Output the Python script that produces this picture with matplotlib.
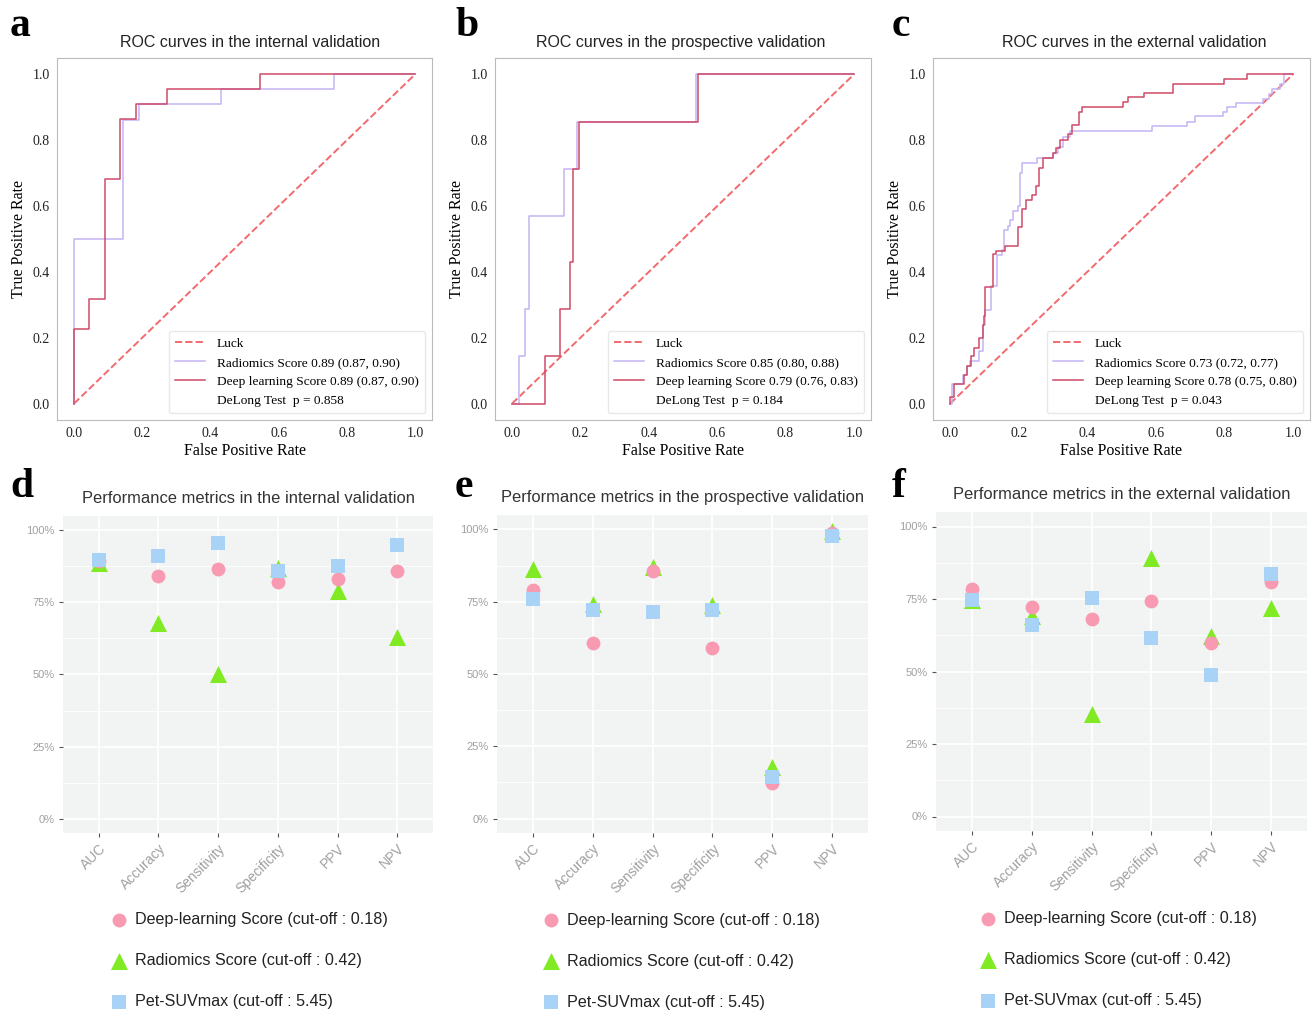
import matplotlib.pyplot as plt
from matplotlib.ticker import FuncFormatter, FixedLocator

SERIF = "Liberation Serif"
SANS = "Liberation Sans"

LUCK_C = "#F26A6E"
RAD_C = "#C4B4F4"
DL_C = "#CF4A68"
PINK = "#F89BB2"
GREEN = "#80EA22"
BLUE = "#A9D2F7"

# ROC jump points (fpr where the curve steps up, tpr after the step)
int_rad_fpr = [0, 0, 0.143, 0.191, 0.43, 0.763, 1.0]
int_rad_tpr = [0, 0.5, 0.863, 0.909, 0.955, 1.0, 1.0]
int_dl_fpr = [0, 0, 0.045, 0.091, 0.136, 0.182, 0.273, 0.545, 1.0]
int_dl_tpr = [0, 0.227, 0.318, 0.682, 0.864, 0.909, 0.955, 1.0, 1.0]

pro_rad_fpr = [0, 0.02, 0.039, 0.049, 0.151, 0.19, 0.537, 1.0]
pro_rad_tpr = [0, 0.143, 0.286, 0.571, 0.714, 0.857, 1.0, 1.0]
pro_dl_fpr = [0, 0.096, 0.141, 0.17, 0.178, 0.197, 0.543, 1.0]
pro_dl_tpr = [0, 0.143, 0.286, 0.429, 0.714, 0.857, 1.0, 1.0]

ext_rad_fpr = [0, 0.006, 0.037, 0.05, 0.057, 0.085, 0.095, 0.103, 0.12, 0.137, 0.15,
               0.156, 0.169, 0.176, 0.183, 0.198, 0.204, 0.21, 0.252, 0.3, 0.315, 0.33,
               0.35, 0.588, 0.69, 0.714, 0.795, 0.807, 0.833, 0.912, 0.93, 0.94, 0.962,
               0.975, 1.0]
ext_rad_tpr = [0, 0.058, 0.088, 0.113, 0.13, 0.159, 0.24, 0.285, 0.356, 0.45, 0.467,
               0.528, 0.541, 0.558, 0.586, 0.6, 0.70, 0.73, 0.745, 0.76, 0.78, 0.81,
               0.828, 0.843, 0.855, 0.873, 0.886, 0.9, 0.914, 0.926, 0.942, 0.957, 0.972,
               1.0, 1.0]
ext_dl_fpr = [0, 0, 0.01, 0.04, 0.05, 0.06, 0.07, 0.085, 0.095, 0.1, 0.103, 0.125, 0.135,
              0.16, 0.198, 0.21, 0.22, 0.24, 0.25, 0.26, 0.27, 0.3, 0.31, 0.32, 0.345,
              0.355, 0.375, 0.385, 0.505, 0.52, 0.565, 0.65, 0.8, 0.865, 1.0]
ext_dl_tpr = [0, 0.02, 0.058, 0.088, 0.115, 0.143, 0.17, 0.2, 0.24, 0.265, 0.355, 0.455,
              0.465, 0.478, 0.535, 0.59, 0.618, 0.633, 0.66, 0.717, 0.745, 0.76, 0.775,
              0.8, 0.82, 0.845, 0.886, 0.9, 0.915, 0.93, 0.943, 0.97, 0.985, 1.0, 1.0]

roc_titles = ["ROC curves in the internal validation",
              "ROC curves in the prospective validation",
              "ROC curves in the external validation"]
rad_labels = ["Radiomics Score 0.89 (0.87, 0.90)",
              "Radiomics Score 0.85 (0.80, 0.88)",
              "Radiomics Score 0.73 (0.72, 0.77)"]
dl_labels = ["Deep learning Score 0.89 (0.87, 0.90)",
             "Deep learning Score 0.79 (0.76, 0.83)",
             "Deep learning Score 0.78 (0.75, 0.80)"]
delong = ["DeLong Test  p = 0.858", "DeLong Test  p = 0.184", "DeLong Test  p = 0.043"]

# performance metrics (%)
metrics = ["AUC", "Accuracy", "Sensitivity", "Specificity", "PPV", "NPV"]
int_dl = [89.5, 84.2, 86.5, 82.0, 83.0, 86.0]
int_rad = [88.6, 68.0, 50.3, 86.8, 79.0, 62.9]
int_pet = [89.8, 91.0, 95.8, 85.9, 87.7, 95.0]
pro_dl = [79.1, 60.6, 85.7, 59.1, 12.3, 98.8]
pro_rad = [86.3, 74.1, 86.9, 73.7, 18.0, 99.3]
pro_pet = [75.8, 72.2, 71.6, 72.2, 14.4, 97.6]
ext_dl = [78.5, 72.2, 68.0, 74.3, 59.9, 80.8]
ext_rad = [74.6, 69.2, 35.2, 89.3, 62.3, 71.8]
ext_pet = [74.8, 65.9, 75.2, 61.5, 48.9, 83.5]

met_titles = ["Performance metrics in the internal validation",
              "Performance metrics in the prospective validation",
              "Performance metrics in the external validation"]
leg_labels = ["Deep-learning Score (cut-off : 0.18)",
              "Radiomics Score (cut-off : 0.42)",
              "Pet-SUVmax (cut-off : 5.45)"]

W, H = 1312, 1010


def px_axes(left, top, right, bottom):
    return [left / W, 1 - bottom / H, (right - left) / W, (bottom - top) / H]


def roc_panel(ax, title, title_x, rf, rt, df, dt, rl, dlab, pl):
    ax.plot([0, 1], [0, 1], ls="--", color=LUCK_C, lw=1.4, label="Luck")
    ax.plot(rf, rt, drawstyle="steps-post", color=RAD_C, lw=1.1, label=rl)
    ax.plot(df, dt, drawstyle="steps-post", color=DL_C, lw=1.1, label=dlab)
    ax.plot([], [], " ", label=pl)
    ax.margins(0.05)
    ticks = [0, 0.2, 0.4, 0.6, 0.8, 1.0]
    ax.set_xticks(ticks)
    ax.set_yticks(ticks)
    ax.set_xticklabels([f"{t:.1f}" for t in ticks])
    ax.set_yticklabels([f"{t:.1f}" for t in ticks])
    for lab in ax.get_xticklabels() + ax.get_yticklabels():
        lab.set_family(SERIF)
        lab.set_fontsize(10)
        lab.set_color("#222222")
    ax.tick_params(length=0, pad=5)
    for s in ax.spines.values():
        s.set_color("#BBBBBB")
    ax.set_xlabel("False Positive Rate", family=SERIF, fontsize=11.5, labelpad=2)
    ax.set_ylabel("True Positive Rate", family=SERIF, fontsize=11.5, labelpad=4)
    ax.set_title(title, family=SANS, fontsize=11.5, color="#222222", pad=8, x=title_x)
    ax.legend(loc="lower right", prop={"family": SERIF, "size": 9.6},
              handlelength=2.2, handletextpad=0.9, labelspacing=0.49,
              borderpad=0.5, edgecolor="#E3E3E3")


def metric_panel(ax, title, dl, rad, pet, leg_x):
    x = list(range(len(metrics)))
    ax.set_facecolor("#F2F4F4")
    h_rad = ax.scatter(x, rad, marker="^", s=150, color=GREEN, lw=0, zorder=3)
    h_dl = ax.scatter(x, dl, marker="o", s=100, color=PINK, lw=0, zorder=4)
    h_pet = ax.scatter(x, pet, marker="s", s=95, color=BLUE, lw=0, zorder=5)
    ax.set_xlim(-0.6, 5.6)
    ax.set_ylim(-5, 105)
    ax.set_xticks(x)
    ax.set_xticklabels(metrics, rotation=45, ha="right", va="top",
                       rotation_mode="anchor", family=SANS, fontsize=10, color="#A0A0A0")
    ax.yaxis.set_major_locator(FixedLocator([0, 25, 50, 75, 100]))
    ax.yaxis.set_minor_locator(FixedLocator([12.5, 37.5, 62.5, 87.5]))
    ax.yaxis.set_major_formatter(FuncFormatter(lambda v, p: f"{v:.0f}%"))
    for lab in ax.get_yticklabels():
        lab.set_family(SANS)
        lab.set_fontsize(8)
        lab.set_color("#A0A0A0")
    ax.tick_params(axis="both", which="major", length=3, width=0.8, color="#555555", pad=3)
    ax.tick_params(axis="y", which="minor", length=0)
    ax.grid(True, which="major", color="white", lw=1.2, zorder=0)
    ax.grid(True, which="minor", axis="y", color="white", lw=0.6, zorder=0)
    ax.set_axisbelow(True)
    for s in ax.spines.values():
        s.set_visible(False)
    ax.set_title(title, family=SANS, fontsize=11.9, color="#333333", pad=9)
    ax.legend([h_dl, h_rad, h_pet], leg_labels, loc="upper left",
              bbox_to_anchor=(leg_x, -0.25), frameon=False, scatterpoints=1,
              prop={"family": SANS, "size": 11.6}, labelspacing=1.62,
              handlelength=1.0, handletextpad=0.5, borderpad=0, borderaxespad=0,
              labelcolor="#222222")


fig = plt.figure(figsize=(W / 100, H / 100), dpi=100)

ax_a = fig.add_axes(px_axes(57, 58, 432, 420))
ax_b = fig.add_axes(px_axes(495, 58, 871, 420))
ax_c = fig.add_axes(px_axes(933, 58, 1310, 420))

roc_panel(ax_a, roc_titles[0], 0.516, int_rad_fpr, int_rad_tpr, int_dl_fpr, int_dl_tpr,
          rad_labels[0], dl_labels[0], delong[0])
roc_panel(ax_b, roc_titles[1], 0.495, pro_rad_fpr, pro_rad_tpr, pro_dl_fpr, pro_dl_tpr,
          rad_labels[1], dl_labels[1], delong[1])
roc_panel(ax_c, roc_titles[2], 0.534, ext_rad_fpr, ext_rad_tpr, ext_dl_fpr, ext_dl_tpr,
          rad_labels[2], dl_labels[2], delong[2])

ax_d = fig.add_axes(px_axes(63, 516, 433, 833))
ax_e = fig.add_axes(px_axes(497, 515, 868, 833))
ax_f = fig.add_axes(px_axes(936, 512, 1307, 831))

metric_panel(ax_d, met_titles[0], int_dl, int_rad, int_pet, 0.129)
metric_panel(ax_e, met_titles[1], pro_dl, pro_rad, pro_pet, 0.123)
metric_panel(ax_f, met_titles[2], ext_dl, ext_rad, ext_pet, 0.118)

for letter, x, y in [("a", 10, 36), ("b", 455, 36), ("c", 892, 36),
                     ("d", 10, 497), ("e", 455, 497), ("f", 892, 497)]:
    fig.text(x / W, 1 - y / H, letter, family=SERIF, fontsize=30,
             fontweight="bold", va="baseline", ha="left")

fig.savefig("out.png", dpi=100)
